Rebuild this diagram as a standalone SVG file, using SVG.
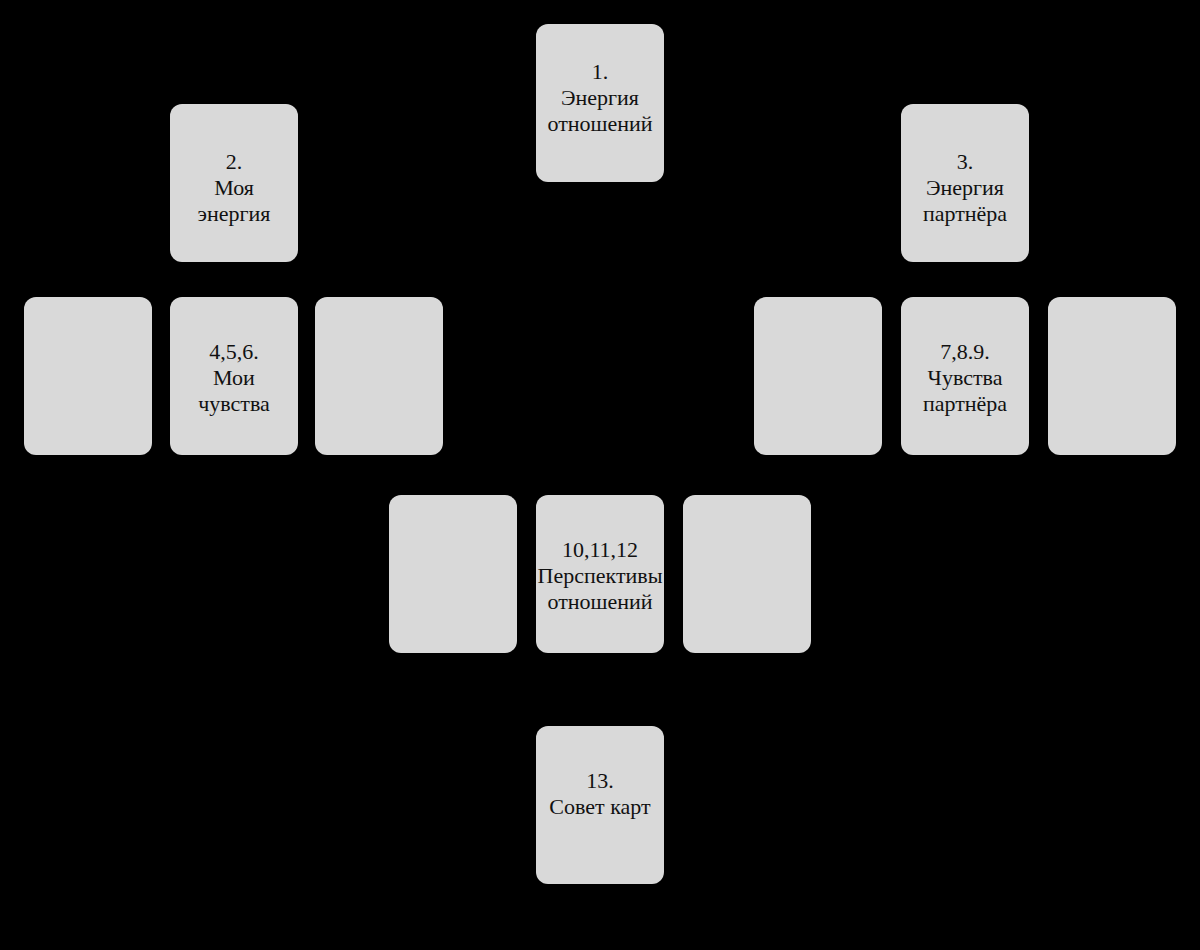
<svg xmlns="http://www.w3.org/2000/svg" width="1200" height="950" viewBox="0 0 1200 950">
<style>
.card{fill:#d9d9d9}
.t{font-family:"Liberation Serif","DejaVu Serif",serif;font-size:22px;fill:#111;text-anchor:middle}
</style>
<defs><rect id="c" class="card" width="128" height="158" rx="12" ry="12"/></defs>
<rect width="1200" height="950" fill="#000"/>
<g id="n1"><use href="#c" x="536" y="24"/><text class="t" x="600" y="79">1.</text><text class="t" x="600" y="105">Энергия</text><text class="t" x="600" y="131">отношений</text></g>
<g id="n2"><use href="#c" x="170" y="104"/><text class="t" x="234" y="169">2.</text><text class="t" x="234" y="195">Моя</text><text class="t" x="234" y="221">энергия</text></g>
<g id="n3"><use href="#c" x="901" y="104"/><text class="t" x="965" y="169">3.</text><text class="t" x="965" y="195">Энергия</text><text class="t" x="965" y="221">партнёра</text></g>
<g id="n4"><use href="#c" x="24" y="297"/></g>
<g id="n5"><use href="#c" x="170" y="297"/><text class="t" x="234" y="359">4,5,6.</text><text class="t" x="234" y="385">Мои</text><text class="t" x="234" y="411">чувства</text></g>
<g id="n6"><use href="#c" x="315" y="297"/></g>
<g id="n7"><use href="#c" x="754" y="297"/></g>
<g id="n8"><use href="#c" x="901" y="297"/><text class="t" x="965" y="359">7,8.9.</text><text class="t" x="965" y="385">Чувства</text><text class="t" x="965" y="411">партнёра</text></g>
<g id="n9"><use href="#c" x="1048" y="297"/></g>
<g id="n10"><use href="#c" x="389" y="495"/></g>
<g id="n11"><use href="#c" x="536" y="495"/><text class="t" x="600" y="557">10,11,12</text><text class="t" x="600" y="583">Перспективы</text><text class="t" x="600" y="609">отношений</text></g>
<g id="n12"><use href="#c" x="683" y="495"/></g>
<g id="n13"><use href="#c" x="536" y="726"/><text class="t" x="600" y="788">13.</text><text class="t" x="600" y="814">Совет карт</text></g>
<g id="connectors"/>
</svg>
